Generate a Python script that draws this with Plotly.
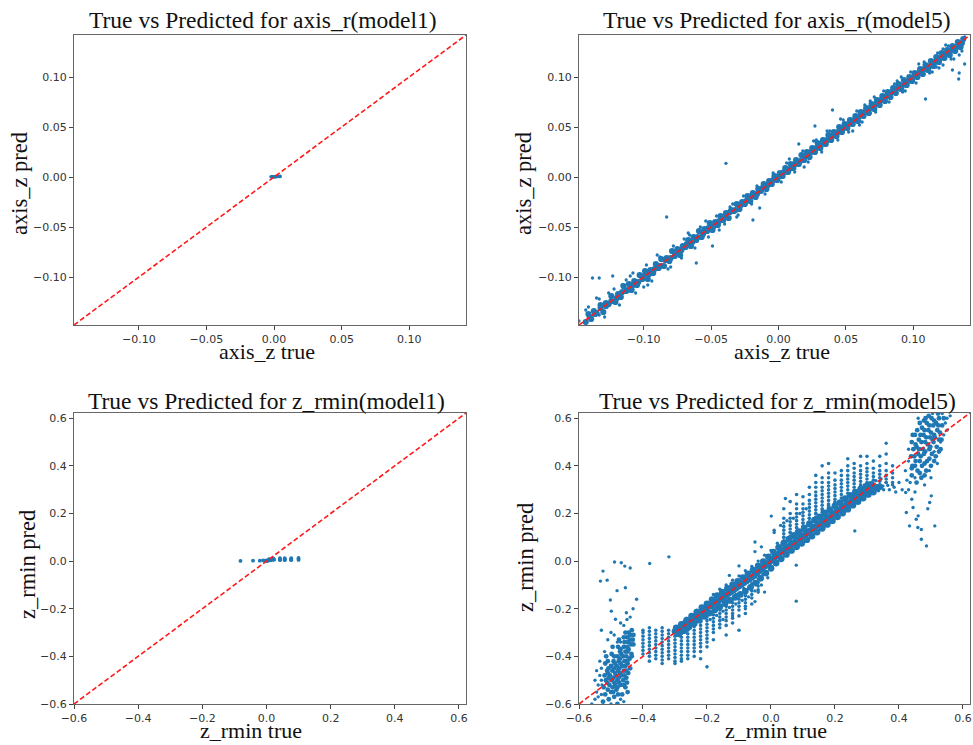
import plotly.graph_objects as go

# ---------------- DATA ----------------
titles = ["True vs Predicted for axis_r(model1)", "True vs Predicted for axis_r(model5)",
          "True vs Predicted for z_rmin(model1)", "True vs Predicted for z_rmin(model5)"]
x_labels = ["axis_z true", "axis_z true", "z_rmin true", "z_rmin true"]
y_labels = ["axis_z pred", "axis_z pred", "z_rmin pred", "z_rmin pred"]

top_tickvals = [-0.10, -0.05, 0.00, 0.05, 0.10]
top_ticktext = ["\u22120.10", "\u22120.05", "0.00", "0.05", "0.10"]
bot_tickvals = [-0.6, -0.4, -0.2, 0.0, 0.2, 0.4, 0.6]
bot_ticktext = ["\u22120.6", "\u22120.4", "\u22120.2", "0.0", "0.2", "0.4", "0.6"]

top_limits = [-0.148, 0.142]
bot_limits = [-0.6, 0.622]

# axis_z, model1: tiny cluster at the origin
az1_points = [(-0.0022, 0.0002), (-0.0015, 0.0001), (-0.001, 0.0003), (0.0, 0.0003), (0.0005, 0.0),
              (0.001, 0.0004), (0.002, 0.0004), (0.003, 0.0005), (0.004, 0.0005), (0.0045, 0.0006)]

# axis_z, model5: dense band along the diagonal
az5_core = [(-0.143, -0.145), (-0.141, -0.137), (-0.139, -0.142), (-0.137, -0.134), (-0.135, -0.136),
            (-0.132, -0.128), (-0.130, -0.135), (-0.128, -0.126), (-0.126, -0.127), (-0.124, -0.119),
            (-0.121, -0.125), (-0.119, -0.117), (-0.117, -0.120), (-0.115, -0.109), (-0.113, -0.114),
            (-0.111, -0.107), (-0.109, -0.113), (-0.107, -0.104), (-0.105, -0.108), (-0.103, -0.098),
            (-0.101, -0.102), (-0.099, -0.094), (-0.097, -0.102), (-0.095, -0.093), (-0.093, -0.096),
            (-0.091, -0.087), (-0.089, -0.091), (-0.087, -0.082), (-0.085, -0.089), (-0.083, -0.081),
            (-0.081, -0.084), (-0.079, -0.074), (-0.077, -0.079), (-0.075, -0.072), (-0.073, -0.078),
            (-0.071, -0.069), (-0.069, -0.070), (-0.067, -0.063), (-0.065, -0.069), (-0.063, -0.060),
            (-0.061, -0.063), (-0.059, -0.054), (-0.057, -0.060), (-0.055, -0.052), (-0.053, -0.054),
            (-0.051, -0.046), (-0.049, -0.053), (-0.047, -0.045), (-0.045, -0.048), (-0.043, -0.039),
            (-0.041, -0.043), (-0.039, -0.036), (-0.037, -0.041), (-0.035, -0.033), (-0.033, -0.034),
            (-0.031, -0.027), (-0.029, -0.032), (-0.027, -0.025), (-0.025, -0.027), (-0.023, -0.019),
            (-0.021, -0.024), (-0.019, -0.016), (-0.017, -0.020), (-0.015, -0.012), (-0.013, -0.014),
            (-0.011, -0.007), (-0.009, -0.012), (-0.007, -0.004), (-0.005, -0.007), (-0.003, 0.001),
            (-0.001, -0.003), (0.001, 0.004), (0.003, 0.001), (0.005, 0.009), (0.007, 0.005),
            (0.009, 0.013), (0.011, 0.009), (0.013, 0.017), (0.015, 0.013), (0.017, 0.022),
            (0.019, 0.017), (0.021, 0.025), (0.023, 0.020), (0.025, 0.029), (0.027, 0.025),
            (0.029, 0.034), (0.031, 0.029), (0.033, 0.037), (0.035, 0.033), (0.037, 0.042),
            (0.039, 0.037), (0.041, 0.045), (0.043, 0.041), (0.045, 0.050), (0.047, 0.045),
            (0.049, 0.053), (0.051, 0.049), (0.053, 0.057), (0.055, 0.053), (0.057, 0.061),
            (0.059, 0.056), (0.061, 0.065), (0.063, 0.061), (0.065, 0.069), (0.067, 0.064),
            (0.069, 0.073), (0.071, 0.068), (0.073, 0.077), (0.075, 0.072), (0.077, 0.081),
            (0.079, 0.076), (0.081, 0.085), (0.083, 0.080), (0.085, 0.089), (0.087, 0.084),
            (0.089, 0.093), (0.091, 0.088), (0.093, 0.097), (0.095, 0.092), (0.097, 0.100),
            (0.099, 0.096), (0.101, 0.104), (0.103, 0.100), (0.105, 0.108), (0.107, 0.103),
            (0.109, 0.112), (0.111, 0.107), (0.113, 0.116), (0.115, 0.111), (0.117, 0.120),
            (0.119, 0.115), (0.121, 0.124), (0.123, 0.119), (0.125, 0.127), (0.127, 0.122),
            (0.129, 0.131), (0.131, 0.126), (0.133, 0.135), (0.135, 0.130), (0.137, 0.138),
            (-0.140, -0.140), (-0.136, -0.137), (-0.132, -0.131), (-0.128, -0.129), (-0.124, -0.124),
            (-0.120, -0.121), (-0.116, -0.115), (-0.112, -0.113), (-0.108, -0.108), (-0.104, -0.105),
            (-0.100, -0.099), (-0.096, -0.097), (-0.092, -0.092), (-0.088, -0.089), (-0.084, -0.083),
            (-0.080, -0.081), (-0.076, -0.076), (-0.072, -0.073), (-0.068, -0.067), (-0.064, -0.065),
            (-0.060, -0.060), (-0.056, -0.057), (-0.052, -0.051), (-0.048, -0.049), (-0.044, -0.044),
            (-0.040, -0.040), (-0.036, -0.035), (-0.032, -0.033), (-0.028, -0.028), (-0.024, -0.024),
            (-0.020, -0.019), (-0.016, -0.017), (-0.012, -0.011), (-0.008, -0.008), (-0.004, -0.003),
            (0.000, 0.000), (0.004, 0.005), (0.008, 0.008), (0.012, 0.013), (0.016, 0.016),
            (0.020, 0.021), (0.024, 0.025), (0.028, 0.029), (0.032, 0.033), (0.036, 0.037),
            (0.040, 0.041), (0.044, 0.045), (0.048, 0.049), (0.052, 0.053), (0.056, 0.057),
            (0.060, 0.061), (0.064, 0.065), (0.068, 0.069), (0.072, 0.073), (0.076, 0.077),
            (0.080, 0.081), (0.084, 0.085), (0.088, 0.089), (0.092, 0.092), (0.096, 0.096),
            (0.100, 0.100), (0.104, 0.104), (0.108, 0.108), (0.112, 0.111), (0.116, 0.115),
            (0.120, 0.119), (0.124, 0.123), (0.128, 0.127), (0.132, 0.130), (0.136, 0.134)]
az5_spread = [(-0.141, -0.130), (-0.133, -0.122), (-0.129, -0.140), (-0.122, -0.112), (-0.118, -0.128),
              (-0.110, -0.099), (-0.106, -0.116), (-0.098, -0.088), (-0.094, -0.104), (-0.088, -0.080),
              (-0.082, -0.092), (-0.078, -0.069), (-0.072, -0.081), (-0.066, -0.058), (-0.062, -0.071),
              (-0.058, -0.050), (-0.052, -0.060), (-0.046, -0.039), (-0.040, -0.047), (-0.034, -0.027),
              (-0.030, -0.038), (-0.026, -0.019), (-0.020, -0.027), (-0.016, -0.009), (-0.010, -0.017),
              (-0.004, 0.004), (0.002, -0.005), (0.006, 0.014), (0.012, 0.005), (0.018, 0.026),
              (0.022, 0.015), (0.028, 0.037), (0.032, 0.025), (0.038, 0.046), (0.044, 0.037),
              (0.048, 0.057), (0.052, 0.045), (0.058, 0.066), (0.062, 0.055), (0.068, 0.076),
              (0.072, 0.065), (0.078, 0.086), (0.082, 0.075), (0.088, 0.096), (0.092, 0.085),
              (0.098, 0.105), (0.102, 0.094), (0.108, 0.115), (0.112, 0.104), (0.118, 0.124),
              (0.122, 0.112), (0.126, 0.131), (0.130, 0.118), (0.134, 0.122), (0.136, 0.126),
              (0.138, 0.140), (0.109, 0.078), (-0.039, 0.0137), (-0.083, -0.040), (-0.019, -0.043),
              (-0.014, -0.031), (0.027, 0.051), (0.015, 0.033), (0.040, 0.067), (0.134, 0.104),
              (0.1336, 0.098), (0.138, 0.113), (0.129, 0.107), (0.122, 0.128), (0.132, 0.127),
              (0.117, 0.110), (-0.138, -0.101), (-0.133, -0.101), (-0.123, -0.099), (-0.135, -0.121),
              (-0.143, -0.133), (-0.148, -0.144), (-0.133, -0.138), (-0.126, -0.116), (-0.116, -0.108),
              (0.055, 0.046), (-0.049, -0.069), (-0.061, -0.086), (0.0994, 0.0967), (-0.108, -0.096),
              (-0.090, -0.078), (-0.070, -0.062), (-0.054, -0.044), (-0.036, -0.030), (0.008, 0.018),
              (0.026, 0.036), (0.046, 0.058), (0.064, 0.072), (0.086, 0.093), (0.104, 0.113),
              (0.124, 0.132), (-0.100, -0.110), (-0.080, -0.090), (-0.044, -0.053), (0.060, 0.052),
              (0.094, 0.086), (0.114, 0.105), (0.128, 0.118), (-0.113, -0.103), (-0.097, -0.108),
              (-0.067, -0.056), (-0.031, -0.040), (0.019, 0.010), (0.036, 0.046), (0.071, 0.080),
              (0.091, 0.100), (0.119, 0.109)]

# z_rmin, model1: short row of points near y = 0
zr1_points = [(-0.081, 0.001), (-0.042, 0.002), (-0.021, 0.002), (-0.011, 0.003), (-0.005, 0.002),
              (0.0, 0.003), (0.003, 0.0), (0.006, 0.004), (0.008, 0.008), (0.010, 0.006),
              (0.012, 0.003), (0.015, 0.007), (0.018, 0.009), (0.020, 0.005), (0.022, 0.010),
              (0.024, 0.006), (0.042, 0.004), (0.042, 0.008), (0.042, 0.012), (0.057, 0.004),
              (0.057, 0.008), (0.057, 0.012), (0.077, 0.004), (0.077, 0.008), (0.077, 0.012),
              (0.100, 0.005), (0.100, 0.009), (0.100, 0.013)]

# z_rmin, model5: main band (dense part)
zr5_band_core = [
    (-0.300, -0.295), (-0.292, -0.290), (-0.284, -0.280), (-0.276, -0.276), (-0.268, -0.262),
    (-0.260, -0.258), (-0.252, -0.250), (-0.244, -0.240), (-0.236, -0.232), (-0.228, -0.226),
    (-0.220, -0.215), (-0.212, -0.210), (-0.204, -0.202), (-0.196, -0.192), (-0.188, -0.187),
    (-0.180, -0.177), (-0.172, -0.170), (-0.164, -0.166), (-0.156, -0.157), (-0.148, -0.150),
    (-0.140, -0.143), (-0.132, -0.135), (-0.124, -0.128), (-0.116, -0.120), (-0.108, -0.112),
    (-0.100, -0.105), (-0.092, -0.097), (-0.084, -0.090), (-0.076, -0.082), (-0.068, -0.076),
    (-0.060, -0.068), (-0.052, -0.060), (-0.044, -0.050), (-0.036, -0.040), (-0.028, -0.030),
    (-0.020, -0.022), (-0.012, -0.012), (-0.004, -0.003), (0.004, 0.006), (0.012, 0.016),
    (0.020, 0.025), (0.028, 0.034), (0.036, 0.041), (0.044, 0.050), (0.052, 0.058),
    (0.060, 0.066), (0.068, 0.073), (0.076, 0.081), (0.084, 0.089), (0.092, 0.097),
    (0.100, 0.105), (0.108, 0.113), (0.116, 0.121), (0.124, 0.128), (0.132, 0.136),
    (0.140, 0.145), (0.148, 0.152), (0.156, 0.160), (0.164, 0.168), (0.172, 0.176),
    (0.180, 0.183), (0.188, 0.191), (0.196, 0.199), (0.204, 0.207), (0.212, 0.214),
    (0.220, 0.222), (0.228, 0.230), (0.236, 0.238), (0.244, 0.245), (0.252, 0.253),
    (0.260, 0.260), (0.268, 0.267), (0.276, 0.274), (0.284, 0.281), (0.292, 0.288),
    (0.300, 0.295), (0.310, 0.300), (0.320, 0.306), (0.330, 0.310), (0.340, 0.312),
    (-0.296, -0.280), (-0.280, -0.266), (-0.264, -0.249), (-0.248, -0.231), (-0.232, -0.214),
    (-0.216, -0.195), (-0.200, -0.180), (-0.184, -0.162), (-0.168, -0.145), (-0.152, -0.130),
    (-0.136, -0.115), (-0.120, -0.100), (-0.104, -0.085), (-0.088, -0.069), (-0.072, -0.054),
    (-0.056, -0.038), (-0.040, -0.020), (-0.024, -0.002), (-0.008, 0.018), (0.008, 0.038),
    (0.024, 0.058), (0.040, 0.075), (0.056, 0.092), (0.072, 0.108), (0.088, 0.124),
    (0.104, 0.140), (0.120, 0.156), (0.136, 0.172), (0.152, 0.186), (0.168, 0.202),
    (0.184, 0.216), (0.200, 0.232), (0.216, 0.246), (0.232, 0.262), (0.248, 0.276),
    (0.264, 0.290), (0.280, 0.302), (0.296, 0.314), (0.312, 0.322),
    (-0.288, -0.305), (-0.272, -0.292), (-0.256, -0.276), (-0.240, -0.262), (-0.224, -0.248),
    (-0.208, -0.232), (-0.192, -0.218), (-0.176, -0.205), (-0.160, -0.192), (-0.144, -0.178),
    (-0.128, -0.165), (-0.112, -0.152), (-0.096, -0.140), (-0.080, -0.126), (-0.064, -0.110),
    (-0.048, -0.092), (-0.032, -0.072), (-0.016, -0.050), (0.000, -0.030), (0.016, -0.008),
    (0.032, 0.010), (0.048, 0.028), (0.064, 0.045), (0.080, 0.060), (0.096, 0.075),
    (0.112, 0.090), (0.128, 0.105), (0.144, 0.122), (0.160, 0.138), (0.176, 0.154),
    (0.192, 0.170), (0.208, 0.186), (0.224, 0.202), (0.240, 0.218), (0.256, 0.235),
    (0.272, 0.250), (0.288, 0.265), (0.304, 0.280), (0.320, 0.290)]
# z_rmin, model5: looser points around the band
zr5_band_spread = [
    (-0.296, -0.275), (-0.264, -0.240), (-0.232, -0.206), (0.350, 0.315), (0.365, 0.318),
    (0.380, 0.320), (0.328, 0.338), (0.344, 0.345), (0.336, 0.295), (0.352, 0.300),
    (-0.190, -0.245), (-0.170, -0.228), (-0.150, -0.210), (-0.130, -0.195), (-0.110, -0.180),
    (-0.090, -0.165), (-0.070, -0.150), (-0.050, -0.125), (-0.030, -0.100), (-0.010, -0.070),
    (-0.180, -0.140), (-0.160, -0.118), (-0.140, -0.100), (-0.120, -0.080), (-0.100, -0.062),
    (-0.080, -0.040), (-0.060, -0.022), (-0.040, 0.000), (-0.020, 0.025), (0.000, 0.045),
    (0.020, 0.075), (0.040, 0.100), (0.060, 0.120), (0.080, 0.140), (0.100, 0.160),
    (0.120, 0.180), (0.140, 0.200), (0.160, 0.215), (0.180, 0.235), (0.200, 0.250),
    (-0.150, -0.245), (-0.120, -0.230), (-0.080, -0.200), (-0.050, -0.170), (-0.020, -0.130),
    (0.010, 0.120), (0.030, 0.150), (0.050, 0.170), (-0.100, -0.020), (-0.130, -0.060),
    (-0.050, 0.040), (0.010, 0.130), (-0.030, 0.060), (0.090, 0.200), (0.110, 0.220),
    (0.070, 0.180), (0.330, 0.300), (0.370, 0.300), (0.390, 0.290), (0.400, 0.330),
    (0.410, 0.300), (0.360, 0.330), (0.385, 0.310), (-0.170, -0.190), (-0.140, -0.165),
    (-0.110, -0.140), (-0.085, -0.115), (-0.060, -0.095), (-0.040, -0.075), (-0.025, -0.055),
    (0.010, 0.030), (0.030, 0.060), (0.050, 0.085), (0.070, 0.098), (0.090, 0.115),
    (0.110, 0.133), (0.130, 0.150), (0.150, 0.165), (0.170, 0.185), (0.190, 0.205)]

# z_rmin, model5: vertical stripes (true value, predictions at that value)
zr5_low_true = [-0.40, -0.38, -0.36, -0.34, -0.32, -0.30, -0.28, -0.26, -0.24, -0.22,
                -0.20, -0.18, -0.16, -0.14, -0.12, -0.10, -0.08, -0.06, -0.04]
zr5_low_pred = [[-0.29, -0.30, -0.315, -0.33, -0.345, -0.36, -0.375, -0.39],
                [-0.28, -0.295, -0.31, -0.325, -0.34, -0.355, -0.37, -0.385, -0.40, -0.42],
                [-0.29, -0.305, -0.32, -0.335, -0.35, -0.365, -0.38, -0.395, -0.41],
                [-0.28, -0.295, -0.31, -0.325, -0.34, -0.355, -0.37, -0.385, -0.40, -0.415, -0.43],
                [-0.29, -0.305, -0.32, -0.335, -0.35, -0.365, -0.38, -0.395, -0.41],
                [-0.30, -0.315, -0.33, -0.345, -0.36, -0.375, -0.39, -0.405, -0.42, -0.43],
                [-0.29, -0.305, -0.32, -0.335, -0.35, -0.365, -0.38, -0.395, -0.41, -0.42],
                [-0.275, -0.29, -0.305, -0.32, -0.335, -0.35, -0.365, -0.38, -0.395, -0.41],
                [-0.26, -0.275, -0.29, -0.305, -0.32, -0.335, -0.35, -0.365, -0.38, -0.40],
                [-0.24, -0.255, -0.27, -0.285, -0.30, -0.315, -0.33, -0.345, -0.36, -0.38, -0.41],
                [-0.22, -0.235, -0.25, -0.265, -0.28, -0.295, -0.31, -0.325, -0.34, -0.36, -0.444],
                [-0.21, -0.225, -0.24, -0.255, -0.27, -0.285, -0.30, -0.33],
                [-0.19, -0.205, -0.22, -0.235, -0.25, -0.265, -0.28],
                [-0.175, -0.19, -0.205, -0.22, -0.235, -0.25, -0.27, -0.31],
                [-0.16, -0.175, -0.19, -0.205, -0.22, -0.24, -0.26],
                [-0.145, -0.16, -0.175, -0.19, -0.205, -0.23, -0.29],
                [-0.13, -0.145, -0.16, -0.175, -0.19, -0.22],
                [-0.11, -0.125, -0.14, -0.155, -0.18],
                [-0.09, -0.105, -0.12, -0.13]]
zr5_high_true = [0.04, 0.06, 0.08, 0.10, 0.12, 0.14, 0.16, 0.18, 0.20,
                 0.22, 0.24, 0.26, 0.28, 0.30, 0.32, 0.34, 0.36, 0.38]
zr5_high_pred = [[0.07, 0.085, 0.10, 0.115, 0.13, 0.145, 0.16, 0.18, 0.22],
                 [0.09, 0.105, 0.12, 0.135, 0.15, 0.165, 0.18, 0.20, 0.25],
                 [0.11, 0.125, 0.14, 0.155, 0.17, 0.185, 0.20, 0.22, 0.24, 0.28],
                 [0.13, 0.145, 0.16, 0.175, 0.19, 0.205, 0.22, 0.24, 0.27],
                 [0.15, 0.165, 0.18, 0.195, 0.21, 0.225, 0.24, 0.255, 0.28, 0.31],
                 [0.17, 0.185, 0.20, 0.215, 0.23, 0.245, 0.26, 0.275, 0.29, 0.31, 0.33, 0.36],
                 [0.19, 0.205, 0.22, 0.235, 0.25, 0.265, 0.28, 0.295, 0.31, 0.33, 0.35, 0.40],
                 [0.21, 0.225, 0.24, 0.255, 0.27, 0.285, 0.30, 0.315, 0.33, 0.35, 0.37, 0.41],
                 [0.23, 0.245, 0.26, 0.275, 0.29, 0.305, 0.32, 0.34, 0.37],
                 [0.25, 0.265, 0.28, 0.295, 0.31, 0.325, 0.34, 0.36, 0.38],
                 [0.27, 0.285, 0.30, 0.315, 0.33, 0.345, 0.36, 0.38, 0.40, 0.43],
                 [0.28, 0.295, 0.31, 0.325, 0.34, 0.355, 0.37, 0.39, 0.41],
                 [0.29, 0.305, 0.32, 0.335, 0.35, 0.365, 0.38, 0.40, 0.44],
                 [0.30, 0.315, 0.33, 0.345, 0.36, 0.375, 0.39, 0.41, 0.44],
                 [0.31, 0.325, 0.34, 0.355, 0.37, 0.39, 0.42],
                 [0.32, 0.335, 0.35, 0.365, 0.38, 0.40, 0.44],
                 [0.33, 0.345, 0.36, 0.38, 0.41, 0.45],
                 [0.33, 0.35, 0.37, 0.40]]

# z_rmin, model5: clusters at both ends (dense cores, then scattered points)
zr5_left_core = [
    (-0.435, -0.29), (-0.44, -0.31), (-0.432, -0.33), (-0.438, -0.35), (-0.445, -0.37),
    (-0.436, -0.39), (-0.442, -0.41), (-0.448, -0.43), (-0.44, -0.45), (-0.446, -0.47),
    (-0.452, -0.49), (-0.45, -0.51), (-0.455, -0.53), (-0.448, -0.55),
    (-0.455, -0.30), (-0.458, -0.34), (-0.46, -0.36), (-0.455, -0.38), (-0.462, -0.40),
    (-0.458, -0.42), (-0.465, -0.44), (-0.46, -0.46), (-0.467, -0.48), (-0.462, -0.50),
    (-0.47, -0.52), (-0.465, -0.56),
    (-0.475, -0.33), (-0.478, -0.36), (-0.472, -0.38), (-0.48, -0.40), (-0.476, -0.42),
    (-0.482, -0.44), (-0.478, -0.46), (-0.485, -0.48), (-0.48, -0.50), (-0.487, -0.52),
    (-0.483, -0.54), (-0.49, -0.57), (-0.48, -0.60),
    (-0.495, -0.36), (-0.498, -0.39), (-0.492, -0.42), (-0.50, -0.44), (-0.496, -0.46),
    (-0.503, -0.48), (-0.498, -0.50), (-0.505, -0.52), (-0.50, -0.55), (-0.507, -0.58),
    (-0.515, -0.40), (-0.518, -0.43), (-0.512, -0.46), (-0.52, -0.48), (-0.516, -0.50),
    (-0.523, -0.53), (-0.518, -0.56), (-0.525, -0.59),
    (-0.445, -0.30), (-0.45, -0.32), (-0.447, -0.34), (-0.45, -0.36), (-0.448, -0.38),
    (-0.452, -0.40), (-0.45, -0.42), (-0.455, -0.44), (-0.452, -0.46), (-0.458, -0.48),
    (-0.46, -0.52), (-0.47, -0.37), (-0.468, -0.39), (-0.472, -0.41), (-0.47, -0.43),
    (-0.474, -0.45), (-0.472, -0.47), (-0.476, -0.49), (-0.475, -0.51), (-0.48, -0.53),
    (-0.478, -0.56), (-0.49, -0.40), (-0.488, -0.43), (-0.49, -0.45), (-0.487, -0.47),
    (-0.492, -0.49), (-0.49, -0.51), (-0.495, -0.53), (-0.493, -0.55), (-0.51, -0.42),
    (-0.508, -0.45), (-0.51, -0.47), (-0.507, -0.49), (-0.512, -0.51), (-0.51, -0.54),
    (-0.44, -0.33), (-0.43, -0.31), (-0.43, -0.35), (-0.435, -0.40), (-0.46, -0.32)]
zr5_left_loose = [
    (-0.53, -0.45), (-0.535, -0.48), (-0.54, -0.52), (-0.545, -0.55), (-0.55, -0.58),
    (-0.56, -0.60), (-0.53, -0.50), (-0.528, -0.52), (-0.53, -0.56), (-0.47, -0.58),
    (-0.46, -0.59), (-0.50, -0.60), (-0.47, -0.34), (-0.48, -0.34), (-0.52, -0.38),
    (-0.535, -0.42), (-0.545, -0.46), (-0.55, -0.50), (-0.54, -0.57),
    (-0.489, -0.004), (-0.468, -0.007), (-0.457, -0.021), (-0.44, -0.029), (-0.525, -0.042),
    (-0.533, -0.084), (-0.512, -0.08), (-0.455, -0.112), (-0.481, -0.124), (-0.42, -0.16),
    (-0.502, -0.163), (-0.499, -0.21), (-0.452, -0.217), (-0.431, -0.20), (-0.486, -0.244),
    (-0.53, -0.29), (-0.47, -0.26), (-0.45, -0.245), (-0.44, -0.235), (-0.50, -0.30),
    (-0.51, -0.33), (-0.49, -0.31), (-0.46, -0.27)]
zr5_right_core = [
    (0.44, 0.36), (0.442, 0.40), (0.438, 0.44), (0.445, 0.47), (0.44, 0.50), (0.443, 0.53),
    (0.455, 0.33), (0.458, 0.38), (0.452, 0.42), (0.46, 0.45), (0.455, 0.48), (0.462, 0.51),
    (0.457, 0.55), (0.47, 0.35), (0.472, 0.40), (0.468, 0.44), (0.475, 0.47), (0.47, 0.50),
    (0.477, 0.53), (0.472, 0.56), (0.478, 0.59), (0.485, 0.38), (0.488, 0.42), (0.482, 0.46),
    (0.49, 0.49), (0.485, 0.52), (0.492, 0.55), (0.487, 0.58), (0.493, 0.61), (0.50, 0.40),
    (0.503, 0.45), (0.498, 0.48), (0.505, 0.51), (0.50, 0.54), (0.507, 0.57), (0.502, 0.60),
    (0.515, 0.44), (0.518, 0.48), (0.512, 0.52), (0.52, 0.55), (0.516, 0.58), (0.522, 0.62),
    (0.53, 0.47), (0.533, 0.51), (0.528, 0.54), (0.535, 0.57), (0.54, 0.60),
    (0.45, 0.40), (0.448, 0.44), (0.452, 0.49), (0.45, 0.53), (0.465, 0.37), (0.465, 0.42),
    (0.463, 0.47), (0.467, 0.53), (0.465, 0.58), (0.48, 0.36), (0.48, 0.41), (0.478, 0.45),
    (0.482, 0.50), (0.48, 0.55), (0.483, 0.60), (0.495, 0.43), (0.495, 0.47), (0.497, 0.52),
    (0.495, 0.57), (0.51, 0.42), (0.508, 0.50), (0.51, 0.53), (0.51, 0.59), (0.525, 0.46),
    (0.525, 0.51), (0.523, 0.57), (0.525, 0.60), (0.44, 0.39)]
zr5_right_loose = [
    (0.43, 0.30), (0.425, 0.34), (0.45, 0.29), (0.48, 0.32), (0.50, 0.35), (0.52, 0.41),
    (0.55, 0.55), (0.56, 0.61), (0.43, 0.42), (0.46, 0.60), (0.42, 0.38), (0.53, 0.50),
    (0.51, 0.46), (0.54, 0.53), (0.545, 0.58), (0.435, 0.33), (0.45, 0.35), (0.43, 0.47),
    (0.495, 0.38), (0.505, 0.62), (0.55, 0.60), (0.535, 0.62),
    (0.421, 0.288), (0.423, 0.204), (0.433, 0.148), (0.454, 0.176), (0.459, 0.141),
    (0.47, 0.092), (0.486, 0.064), (0.512, 0.148), (0.496, 0.246), (0.444, 0.225),
    (0.501, 0.274), (0.36, 0.495), (0.47, 0.133), (0.46, 0.19), (0.49, 0.22), (0.44, 0.26)]
zr5_isolated = [(0.262, 0.127), (0.079, -0.017), (0.079, -0.168), (-0.379, -0.010), (-0.319, 0.018),
                (0.001, 0.189), (0.045, 0.263), (-0.050, 0.080)]

# ---------------- FIGURE ----------------
W, H = 973, 745
BLUE = "#1f77b4"
SERIF = "Liberation Serif, Times New Roman, serif"
SANS = "DejaVu Sans, sans-serif"


def px_x(p):
    return p / W


def px_y(p):
    return 1 - p / H


def expand(true_vals, pred_lists):
    out = []
    for t, preds in zip(true_vals, pred_lists):
        for p in preds:
            out.append((t, p))
    return out


panels = [
    dict(xd=(74, 466), yd=(35, 325), lim=top_limits, tv=top_tickvals, tt=top_ticktext,
         groups=[(az1_points, 3.6)]),
    dict(xd=(579, 970), yd=(35, 325), lim=top_limits, tv=top_tickvals, tt=top_ticktext,
         groups=[(az5_spread, 3.3), (az5_core, 6.2)]),
    dict(xd=(74, 466), yd=(413, 704), lim=bot_limits, tv=bot_tickvals, tt=bot_ticktext,
         groups=[(zr1_points, 3.8)]),
    dict(xd=(579, 970), yd=(413, 704), lim=bot_limits, tv=bot_tickvals, tt=bot_ticktext,
         groups=[(zr5_band_spread + zr5_left_loose + zr5_right_loose + zr5_isolated, 3.4),
                 (expand(zr5_low_true, zr5_low_pred) + expand(zr5_high_true, zr5_high_pred), 3.6),
                 (zr5_left_core + zr5_right_core, 4.8),
                 (zr5_band_core, 6.8)]),
]

fig = go.Figure()
layout = dict(width=W, height=H, margin=dict(l=0, r=0, t=0, b=0, autoexpand=False),
              template="none", paper_bgcolor="white", plot_bgcolor="white", showlegend=False)

for i, pn in enumerate(panels):
    n = i + 1
    xa = "x" if n == 1 else f"x{n}"
    ya = "y" if n == 1 else f"y{n}"
    for pts, size in pn["groups"]:
        fig.add_trace(go.Scatter(x=[p[0] for p in pts], y=[p[1] for p in pts], mode="markers",
                                 marker=dict(color=BLUE, size=size, line=dict(width=0)),
                                 xaxis=xa, yaxis=ya, hoverinfo="skip"))
    lo, hi = pn["lim"]
    fig.add_trace(go.Scatter(x=[lo, hi], y=[lo, hi], mode="lines",
                             line=dict(color="#ff1a1a", width=1.6, dash="5px,2.6px"),
                             xaxis=xa, yaxis=ya, hoverinfo="skip"))
    common = dict(range=[lo, hi], showgrid=False, zeroline=False, showline=True, mirror=True,
                  automargin=False, linecolor="#666666", linewidth=1.3, ticks="outside",
                  ticklen=4, tickwidth=1, tickcolor="#444444", tickvals=pn["tv"],
                  ticktext=pn["tt"], tickfont=dict(family=SANS, size=11, color="#333333"))
    xkey = "xaxis" if n == 1 else f"xaxis{n}"
    ykey = "yaxis" if n == 1 else f"yaxis{n}"
    layout[xkey] = dict(domain=[px_x(pn["xd"][0]), px_x(pn["xd"][1])], anchor=ya, **common)
    layout[ykey] = dict(domain=[px_y(pn["yd"][1]), px_y(pn["yd"][0])], anchor=xa, **common)

fig.update_layout(**layout)

title_pos = [(263, 20), (777, 20), (266, 401), (777, 401)]
# x-label boxes: (centre x, bottom edge y) in pixels
xlabel_pos = [(267, 366), (782, 366), (251, 745), (776, 745)]
ylabel_pos = [(19, 184), (523, 184), (27, 565), (525, 558)]

for i in range(4):
    tx, ty = title_pos[i]
    fig.add_annotation(text=titles[i], x=px_x(tx), y=px_y(ty), xref="paper", yref="paper",
                       showarrow=False, xanchor="center", yanchor="middle",
                       font=dict(family=SERIF, size=23.5, color="#111111"))
    lx, ly = xlabel_pos[i]
    fig.add_annotation(text=x_labels[i], x=px_x(lx), y=px_y(ly), xref="paper", yref="paper",
                       showarrow=False, xanchor="center", yanchor="bottom",
                       font=dict(family=SERIF, size=22, color="#111111"))
    vx, vy = ylabel_pos[i]
    fig.add_annotation(text=y_labels[i], x=px_x(vx), y=px_y(vy), xref="paper", yref="paper",
                       showarrow=False, xanchor="center", yanchor="middle", textangle=-90,
                       font=dict(family=SERIF, size=22.5, color="#111111"))

fig.write_html("out.html", config={"displayModeBar": False},
               post_script="document.body.style.margin='0';document.body.style.overflow='hidden';")
